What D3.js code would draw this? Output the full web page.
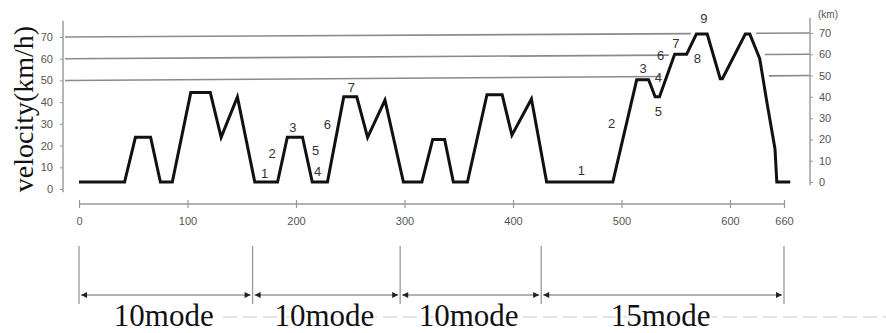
<!DOCTYPE html>
<html>
<head>
<meta charset="utf-8">
<script src="https://cdn.jsdelivr.net/npm/d3@7"></script>
<style>
  html, body { margin: 0; padding: 0; background: #fff; }
  svg { display: block; }
  .tick text { font-family: "Liberation Sans", Arial, sans-serif; font-size: 11px; fill: #555; }
  .serif { font-family: "Liberation Serif", "Times New Roman", serif; fill: #111; }
</style>
</head>
<body>
<svg id="chart" width="886" height="333"></svg>
<script>
// 10・15 mode velocity profile (time in s, speed in km/h)
const TIME = [
  0, 42, 52, 66, 75, 86, 103, 121, 131, 146, 162,
  183, 192, 206, 215, 229, 244, 256, 266, 282, 299,
  316, 326, 337, 345, 358, 376, 390, 399, 417, 431,
  492, 514, 525, 531, 535, 549, 560, 569, 579, 591, 593, 617, 622, 633, 641, 650, 652, 667
];
const SPEED = [
  0, 0, 21, 21, 0, 0, 42, 42, 21, 40, 0,
  0, 21, 21, 0, 0, 40, 40, 21, 38.5, 0,
  0, 20, 20, 0, 0, 41, 41, 22, 39, 0,
  0, 48, 48, 40, 40, 60, 60, 69.5, 69.5, 48.5, 48.5, 69.5, 69.5, 58, 37.5, 15.5, 0, 0
];

const Y_TICKS = [0, 10, 20, 30, 40, 50, 60, 70];
const GRID_LEVELS = [50, 60, 70];
const X_TICKS = [0, 100, 200, 300, 400, 500, 600, 660];

// phase numbers written beside the curve: [label, time, speed]
const NOTE_LABELS = ['1', '2', '3', '5', '4', '6', '7', '1', '2', '3', '4', '5', '6', '7', '8', '9'];
const NOTE_TIME   = [171, 178, 197, 218, 220, 229, 251, 463, 491, 520, 534, 534, 536, 550, 570, 576];
const NOTE_SPEED  = [4.2, 13.6, 25.8, 14.6, 4.7, 26.8, 44.2, 5.6, 27.7, 53.5, 49.3, 32.9, 59.2, 65.3, 57.8, 76.6];

// mode sections along the time axis
const MODE_BOUNDS = [0, 160, 296, 426, 660];
const MODE_NAMES  = ['10mode', '10mode', '10mode', '15mode'];

const svg = d3.select('#chart');

// the scan's axis is not quite linear past 600, so a polylinear scale
const x = d3.scaleLinear().domain([0, 600, 660]).range([79, 730, 784]);
const y = d3.scaleLinear().domain([0, 70]).range([182, 33]);
const yLeft = d3.scaleLinear().domain([0, 70]).range([189, 37]);
const yRight = d3.scaleLinear().domain([0, 70]).range([182, 33]);

const LEFT_X = 63, RIGHT_X = 810;

// ── Gridlines (stop where the curve passes over them) ──────────────────────
function crossing(level, fromEnd) {
  const n = TIME.length;
  const idx = d3.range(1, n);
  if (fromEnd) idx.reverse();
  for (const i of idx) {
    const a = SPEED[i - 1], b = SPEED[i];
    if ((a < level - 1) !== (b < level - 1)) {
      const f = (level - 1 - a) / (b - a);
      return TIME[i - 1] + f * (TIME[i] - TIME[i - 1]);
    }
  }
  return null;
}

const grid = svg.append('g');
GRID_LEVELS.forEach(v => {
  const y0 = yLeft(v), y1 = yRight(v);
  const yAt = px => y0 + (y1 - y0) * (px - (LEFT_X + 2)) / (RIGHT_X - LEFT_X - 2);
  const tIn = crossing(v, false), tOut = crossing(v, true);
  const segs = tIn == null
    ? [[LEFT_X + 2, RIGHT_X]]
    : [[LEFT_X + 2, x(tIn) - 5], [x(tOut) + 6, RIGHT_X]];
  segs.forEach(([a, b]) => {
    grid.append('line')
      .attr('x1', a).attr('x2', b)
      .attr('y1', yAt(a)).attr('y2', yAt(b))
      .attr('stroke', '#8a8a8a').attr('stroke-width', 1.6);
  });
});

// ── Left axis ──────────────────────────────────────────────────────────────
const leftAxis = svg.append('g')
  .attr('transform', `translate(${LEFT_X},0)`)
  .call(d3.axisLeft(yLeft).tickValues(Y_TICKS).tickSize(3).tickPadding(7));
leftAxis.select('.domain').remove();
leftAxis.selectAll('.tick line').attr('stroke', '#999');
svg.append('line')
  .attr('x1', LEFT_X).attr('x2', LEFT_X)
  .attr('y1', yLeft(-1.5)).attr('y2', yLeft(77.5))
  .attr('stroke', '#999').attr('stroke-width', 1.4);

// ── Right axis ─────────────────────────────────────────────────────────────
const rightAxis = svg.append('g')
  .attr('transform', `translate(${RIGHT_X},0)`)
  .call(d3.axisRight(yRight).tickValues(Y_TICKS).tickSize(3).tickPadding(6));
rightAxis.select('.domain').remove();
rightAxis.selectAll('.tick line').attr('stroke', '#999');
svg.append('line')
  .attr('x1', RIGHT_X).attr('x2', RIGHT_X)
  .attr('y1', yRight(-1.5)).attr('y2', yRight(77))
  .attr('stroke', '#999').attr('stroke-width', 1.4);

svg.append('text')
  .attr('x', 818).attr('y', 18)
  .style('font-family', '"Liberation Sans", Arial, sans-serif')
  .style('font-size', '10px').style('fill', '#555')
  .text('(km)');

// ── Y label ────────────────────────────────────────────────────────────────
svg.append('text')
  .attr('class', 'serif')
  .attr('transform', 'translate(33,109) rotate(-90)')
  .attr('text-anchor', 'middle')
  .style('font-size', '28px')
  .text('velocity(km/h)');

// ── Velocity curve ─────────────────────────────────────────────────────────
const pts = TIME.map((t, i) => [t, SPEED[i]]);
svg.append('path')
  .datum(pts)
  .attr('fill', 'none')
  .attr('stroke', '#111')
  .attr('stroke-width', 3)
  .attr('stroke-linejoin', 'miter')
  .attr('d', d3.line().x(d => x(d[0])).y(d => y(d[1])));

// phase numbers
svg.append('g').selectAll('text')
  .data(NOTE_LABELS)
  .join('text')
  .attr('x', (d, i) => x(NOTE_TIME[i]))
  .attr('y', (d, i) => y(NOTE_SPEED[i]))
  .attr('text-anchor', 'middle')
  .attr('dominant-baseline', 'central')
  .style('font-family', '"Liberation Sans", Arial, sans-serif')
  .style('font-size', '13px')
  .style('fill', '#333')
  .text(d => d);

// ── Time axis ──────────────────────────────────────────────────────────────
const xAxis = svg.append('g')
  .attr('transform', 'translate(0,200)')
  .call(d3.axisBottom(x).tickValues(X_TICKS).tickSize(8).tickPadding(9));
xAxis.select('.domain').remove();
xAxis.selectAll('.tick line').attr('stroke', '#999').attr('stroke-width', 1.2);
svg.append('line')
  .attr('x1', x(0)).attr('x2', x(660))
  .attr('y1', 204).attr('y2', 204)
  .attr('stroke', '#999').attr('stroke-width', 1.4);

// ── Mode sections ──────────────────────────────────────────────────────────
const defs = svg.append('defs');
['start', 'end'].forEach(k => {
  defs.append('marker')
    .attr('id', `arr-${k}`)
    .attr('viewBox', '0 0 10 10')
    .attr('refX', k === 'end' ? 10 : 0).attr('refY', 5)
    .attr('markerWidth', 7).attr('markerHeight', 6)
    .attr('markerUnits', 'userSpaceOnUse')
    .attr('orient', 'auto')
    .append('path')
    .attr('d', k === 'end' ? 'M0,0 L10,5 L0,10 Z' : 'M10,0 L0,5 L10,10 Z')
    .attr('fill', '#222');
});

// faint dashed rule under the labels
svg.append('line')
  .attr('x1', 223).attr('x2', 886)
  .attr('y1', 317).attr('y2', 317)
  .attr('stroke', '#c8c8c8').attr('stroke-width', 1.2)
  .attr('stroke-dasharray', '14 6');

const modes = svg.append('g');
MODE_BOUNDS.forEach(t => {
  modes.append('line')
    .attr('x1', x(t)).attr('x2', x(t))
    .attr('y1', 246).attr('y2', 304)
    .attr('stroke', '#999').attr('stroke-width', 1.3);
});
MODE_NAMES.forEach((name, i) => {
  const a = x(MODE_BOUNDS[i]) + 2, b = x(MODE_BOUNDS[i + 1]) - 2;
  modes.append('line')
    .attr('x1', a).attr('x2', b)
    .attr('y1', 295).attr('y2', 295)
    .attr('stroke', '#999').attr('stroke-width', 1.3)
    .attr('marker-start', 'url(#arr-start)')
    .attr('marker-end', 'url(#arr-end)');
  modes.append('text')
    .attr('class', 'serif')
    .attr('x', (a + b) / 2 - 2)
    .attr('y', 326)
    .attr('text-anchor', 'middle')
    .style('font-size', '31px')
    .style('stroke', '#fff').style('stroke-width', 4).style('paint-order', 'stroke')
    .text(name);
});
</script>
</body>
</html>
